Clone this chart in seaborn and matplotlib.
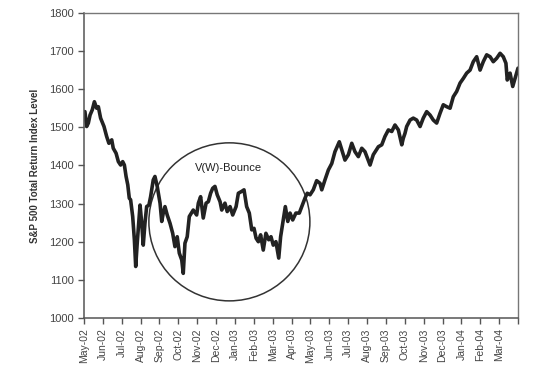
import numpy as np
import pandas as pd
import matplotlib
matplotlib.use("Agg")
import matplotlib.pyplot as plt
from matplotlib.patches import Ellipse
import seaborn as sns

# month labels (tick i = start of month i after May-02)
month_labels = ["May-02", "Jun-02", "Jul-02", "Aug-02", "Sep-02", "Oct-02",
                "Nov-02", "Dec-02", "Jan-03", "Feb-03", "Mar-03", "Apr-03",
                "May-03", "Jun-03", "Jul-03", "Aug-03", "Sep-03", "Oct-03",
                "Nov-03", "Dec-03", "Jan-04", "Feb-04", "Mar-04", ""]

# position in months since May 2002
month_pos = [0.05, 0.14, 0.23, 0.32, 0.44, 0.55, 0.67, 0.76, 0.88, 1.06,
             1.20, 1.32, 1.47, 1.55, 1.70, 1.82, 1.94, 2.05, 2.14, 2.23,
             2.32, 2.40, 2.47, 2.58, 2.67, 2.74, 2.82, 2.97, 3.06, 3.14,
             3.23, 3.32, 3.44, 3.53, 3.67, 3.76, 3.88, 4.03, 4.12, 4.20,
             4.29, 4.41, 4.56, 4.70, 4.82, 4.94, 5.05, 5.18, 5.26, 5.35,
             5.47, 5.58, 5.79, 5.97, 6.06, 6.18, 6.32, 6.47, 6.59, 6.71,
             6.82, 6.94, 7.06, 7.21, 7.30, 7.47, 7.59, 7.74, 7.88, 8.06,
             8.18, 8.36, 8.48, 8.62, 8.76, 8.89, 9.01, 9.12, 9.24, 9.36,
             9.50, 9.64, 9.79, 9.91, 10.03, 10.17, 10.32, 10.42, 10.56, 10.67,
             10.80, 10.92, 11.06, 11.23, 11.41, 11.54, 11.71, 11.83, 11.98,
             12.15, 12.33, 12.51, 12.60, 12.77, 12.95, 13.13, 13.30, 13.53, 13.66,
             13.83, 14.01, 14.19, 14.36, 14.54, 14.72, 14.89, 15.16, 15.33, 15.60,
             15.78, 15.95, 16.13, 16.31, 16.48, 16.66, 16.84, 16.92, 17.01, 17.10,
             17.28, 17.45, 17.63, 17.81, 17.98, 18.16, 18.34, 18.51, 18.69, 18.87,
             19.04, 19.22, 19.40, 19.57, 19.75, 19.93, 20.10, 20.28, 20.46, 20.63,
             20.81, 20.99, 21.16, 21.34, 21.52, 21.69, 21.87, 22.05, 22.22, 22.36,
             22.43, 22.58, 22.72, 22.84, 23.00]

index_level = [1541, 1502, 1511, 1532, 1546, 1567, 1550, 1554, 1524, 1502,
               1476, 1458, 1467, 1445, 1432, 1410, 1401, 1410, 1401, 1371,
               1349, 1314, 1310, 1266, 1205, 1135, 1196, 1296, 1248, 1191,
               1248, 1292, 1296, 1318, 1362, 1371, 1345, 1301, 1253, 1275,
               1292, 1270, 1248, 1222, 1187, 1213, 1170, 1152, 1117, 1196,
               1213, 1266, 1283, 1270, 1301, 1318, 1262, 1301, 1305, 1327,
               1340, 1345, 1323, 1305, 1283, 1301, 1279, 1292, 1270, 1292,
               1327, 1332, 1336, 1292, 1275, 1231, 1235, 1209, 1200, 1218,
               1178, 1222, 1205, 1213, 1191, 1200, 1157, 1213, 1257, 1292,
               1253, 1275, 1257, 1275, 1275, 1292, 1314, 1327, 1323,
               1336, 1360, 1353, 1336, 1362, 1388, 1405, 1436, 1462, 1441,
               1414, 1428, 1458, 1436, 1423, 1445, 1436, 1401, 1428, 1449,
               1454, 1476, 1493, 1489, 1506, 1493, 1454, 1471, 1484, 1502,
               1519, 1524, 1519, 1502, 1524, 1541, 1532, 1519, 1511, 1537,
               1559, 1554, 1550, 1580, 1594, 1616, 1628, 1642, 1650, 1672,
               1685, 1650, 1672, 1690, 1685, 1672, 1681, 1694, 1685, 1668,
               1624, 1642, 1607, 1628, 1655]

df = pd.DataFrame({"month": month_pos, "level": index_level})

sns.set_style("ticks")
plt.rcParams["font.family"] = ["Liberation Sans Narrow", "Liberation Sans", "DejaVu Sans"]

fig = plt.figure(figsize=(5.6, 3.68), dpi=100)
ax = fig.add_axes([0.15, 0.136, 0.775, 0.829])

sns.lineplot(data=df, x="month", y="level", ax=ax, color="#222222", linewidth=2.6)

# circle highlighting the bounce
circle = Ellipse((0.335, 0.315), 0.371, 0.518, transform=ax.transAxes,
                 fill=False, edgecolor="#333333", linewidth=1.1)
ax.add_patch(circle)
ax.text(0.333, 0.492, "V(W)-Bounce", transform=ax.transAxes, ha="center",
        va="center", fontsize=8, color="#222222")

ax.set_xlim(0, 23)
ax.set_ylim(1000, 1800)
ax.set_xticks(range(len(month_labels)))
ax.set_xticklabels(month_labels, rotation=90, fontsize=7.5, color="#444444")
ax.set_yticks(range(1000, 1801, 100))
ax.set_yticklabels([str(v) for v in range(1000, 1801, 100)], fontsize=8, color="#444444")
ax.tick_params(length=4, width=1, color="#555555")
ax.set_xlabel("")
ax.set_ylabel("S&P 500 Total Return Index Level", fontsize=7, fontweight="bold",
              color="#333333", labelpad=6)

for side in ["left", "bottom"]:
    ax.spines[side].set_color("#555555")
    ax.spines[side].set_linewidth(1.1)
for side in ["top", "right"]:
    ax.spines[side].set_visible(True)
    ax.spines[side].set_color("#777777")
    ax.spines[side].set_linewidth(1.0)

fig.savefig("out.png", dpi=100)
